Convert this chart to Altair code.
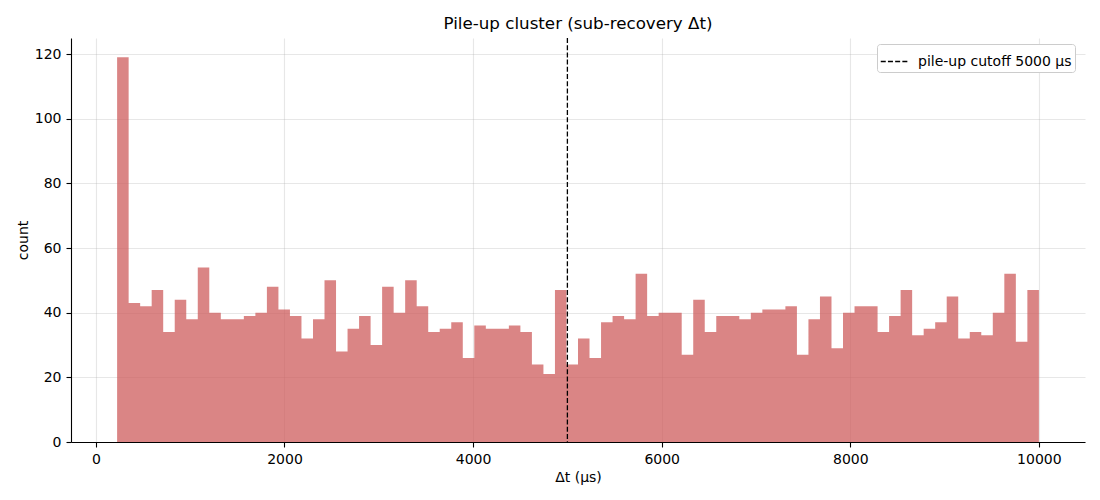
import altair as alt
import numpy as np
import pandas as pd

# Histogram counts (80 equal-width bins)
counts = [119, 43, 42, 47, 34, 44, 38, 54, 40, 38,
          38, 39, 40, 48, 41, 39, 32, 38, 50, 28,
          35, 39, 30, 48, 40, 50, 42, 34, 35, 37,
          26, 36, 35, 35, 36, 34, 24, 21, 47, 24,
          32, 26, 37, 39, 38, 52, 39, 40, 40, 27,
          44, 34, 39, 39, 38, 40, 41, 41, 42, 27,
          38, 45, 29, 40, 42, 42, 34, 39, 47, 33,
          35, 37, 45, 32, 34, 33, 40, 52, 31, 47]
bin_min = 225
bin_max = 10000
cutoff = 5000
cutoff_label = "pile-up cutoff 5000 μs"
x_ticks = [0, 2000, 4000, 6000, 8000, 10000]
y_ticks = [0, 20, 40, 60, 80, 100, 120]

edges = np.linspace(bin_min, bin_max, len(counts) + 1)
# step outline of the histogram: each bin's left edge carries its count,
# the last edge repeats the last count so the final bin closes at bin_max
hist = pd.DataFrame({"edge": edges, "count": counts + [counts[-1]]})
rule_df = pd.DataFrame({"x": [cutoff], "label": [cutoff_label]})

FONT = "DejaVu Sans"

xscale = alt.Scale(domain=[-264, 10489], nice=False, zero=False)
yscale = alt.Scale(domain=[0, 124.95], nice=False)

bars = alt.Chart(hist).mark_area(color="indianred", opacity=0.75,
                                 interpolate="step-after").encode(
    x=alt.X("edge:Q", scale=xscale,
            axis=alt.Axis(values=x_ticks, format="d", title="Δt (μs)")),
    y=alt.Y("count:Q", scale=yscale,
            axis=alt.Axis(values=y_ticks, format="d", title="count")),
    y2=alt.datum(0),
)

rule = alt.Chart(rule_df).mark_rule(strokeDash=[5, 2.2], strokeWidth=1.3).encode(
    x=alt.X("x:Q", scale=xscale),
    color=alt.Color("label:N",
                    scale=alt.Scale(domain=[cutoff_label], range=["black"]),
                    legend=alt.Legend(title=None, orient="none", legendX=806, legendY=6,
                                      symbolType="stroke", symbolDash=[5, 2.2],
                                      symbolStrokeWidth=1.3, symbolSize=756,
                                      labelFont=FONT, labelFontSize=14, labelColor="black",
                                      labelOffset=9, padding=3,
                                      fillColor="white", strokeColor="#cccccc",
                                      cornerRadius=3)),
)

chart = alt.layer(bars, rule).properties(
    width=1014, height=404,
    padding={"left": 63, "top": 30, "right": 7, "bottom": 50},
    autosize=alt.AutoSizeParams(type="none"),
    title=alt.TitleParams("Pile-up cluster (sub-recovery Δt)", font=FONT, fontSize=16.7,
                          fontWeight="normal", color="black", anchor="middle",
                          frame="group", offset=10, dy=18, baseline="alphabetic"),
).configure_view(stroke=None).configure_axis(
    labelFont=FONT, titleFont=FONT, labelFontSize=14, titleFontSize=14,
    titleFontWeight="normal", labelColor="black", titleColor="black",
    domainColor="black", domainWidth=1.1, tickColor="black", tickWidth=1.1,
    tickSize=5, labelPadding=5, titlePadding=4,
    gridColor="#b0b0b0", gridOpacity=0.3, gridWidth=1.1,
)

chart.save("out.html", embed_options={"renderer": "svg", "actions": False})
